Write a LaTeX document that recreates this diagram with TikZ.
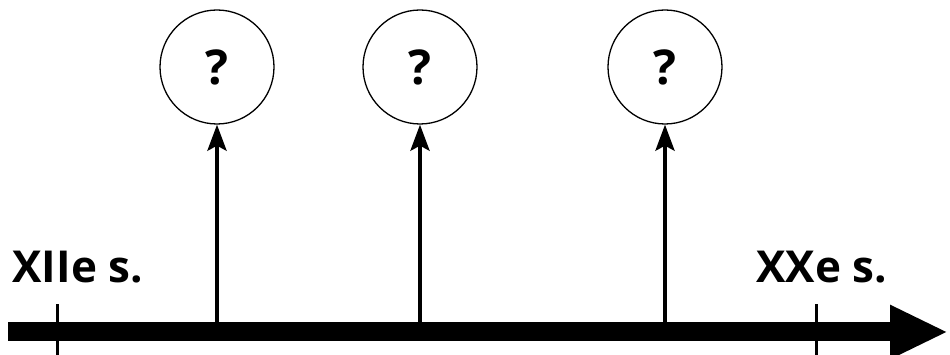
\documentclass[tikz,border=0pt]{standalone}
\usepackage{fontspec}
\setmainfont{Open Sans}
\usetikzlibrary{arrows.meta, positioning}

\begin{document}
\begin{tikzpicture}[x=1pt,y=1pt,
  era/.style={circle, draw, line width=1.3pt, minimum size=114pt, inner sep=0pt,
    font=\bfseries\fontsize{48}{48}\selectfont},
  century/.style={anchor=base west, font=\bfseries\fontsize{44}{44}\selectfont},
  link/.style={line width=4pt, -{Stealth[length=26pt,width=19pt,inset=5pt]}},
  tick/.style={line width=3pt}]
  \useasboundingbox (0,0) rectangle (950,355);
  % time axis
  \coordinate (start) at (8,23);
  \coordinate (end) at (948,23);
  \draw[line width=19pt, -{Triangle[length=58pt,width=50pt]}] (start) -- (end);
  \draw[tick] (57,0) -- (57,51);
  \draw[tick] (816,0) -- (816,51);
  \node[century] (xii) at (9,72) {XIIe s.};
  \node[century] (xx) at (753,72) {XXe s.};
  % unknown points in between
  \node[era] (q1) at (217,288) {?};
  \node[era] (q2) at (420,288) {?};
  \node[era] (q3) at (665,288) {?};
  \coordinate (t1) at (217,32);
  \coordinate (t2) at (420,32);
  \coordinate (t3) at (665,32);
  \draw[link] (t1) -- (q1.south);
  \draw[link] (t2) -- (q2.south);
  \draw[link] (t3) -- (q3.south);
\end{tikzpicture}
\end{document}
